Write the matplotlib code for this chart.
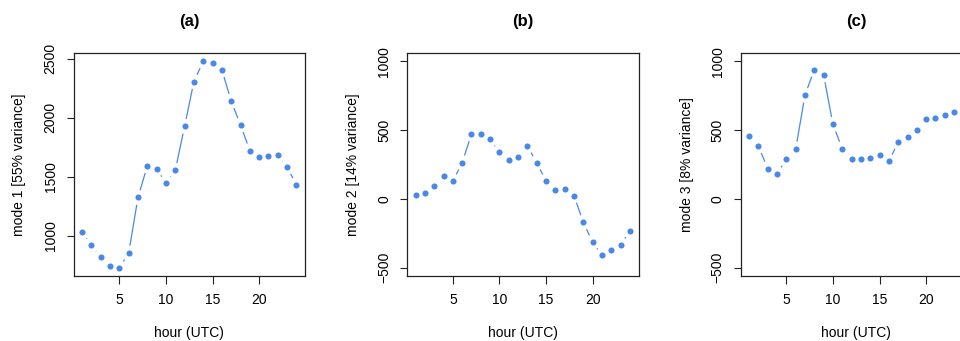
import numpy as np
import matplotlib
matplotlib.use("Agg")
import matplotlib.pyplot as plt

plt.rcParams['font.family'] = ['Liberation Sans', 'DejaVu Sans']

hours = list(range(1, 25))
mode1 = [1028, 921, 817, 744, 727, 851, 1324, 1592, 1564, 1448, 1553, 1928,
         2308, 2480, 2466, 2407, 2142, 1939, 1722, 1668, 1674, 1685, 1581, 1431]
mode2 = [29, 41, 97, 169, 130, 263, 471, 471, 432, 338, 283, 304,
         384, 263, 128, 65, 75, 24, -171, -314, -411, -370, -333, -232]
mode3 = [457, 384, 220, 184, 287, 362, 754, 940, 901, 541, 365, 292,
         287, 300, 319, 273, 413, 449, 500, 582, 589, 609, 628, 645]

titles = ['(a)', '(b)', '(c)']
ylabels = ['mode 1 [55% variance]', 'mode 2 [14% variance]', 'mode 3 [8% variance]']
xticks = [5, 10, 15, 20]
yticks = [[1000, 1500, 2000, 2500], [-500, 0, 500, 1000], [-500, 0, 500, 1000]]
fixed_ylim = [None, (-500, 1000), (-500, 1000)]
series = [mode1, mode2, mode3]

color = '#4A88E8'
W, H = 960, 341
fig = plt.figure(figsize=(W / 100, H / 100), dpi=100)

lefts = [73.5, 407.0, 740.5]
ax_w, ax_top, ax_bot = 231.5, 53, 276
ax_h = ax_bot - ax_top
gap_px = 7.5

for i in range(3):
    ax = fig.add_axes([lefts[i] / W, (H - ax_bot) / H, ax_w / W, ax_h / H])
    x = np.array(hours, dtype=float)
    y = np.array(series[i], dtype=float)
    xpad = 0.04 * (x.max() - x.min())
    ax.set_xlim(x.min() - xpad, x.max() + xpad)
    if fixed_ylim[i] is None:
        lo, hi = y.min(), y.max()
    else:
        lo, hi = fixed_ylim[i]
    ypad = 0.04 * (hi - lo)
    ax.set_ylim(lo - ypad, hi + ypad)

    ax.plot(x, y, 'o', color=color, markersize=4.4, markeredgewidth=0, clip_on=True)
    # lines with gaps around points (R type="b")
    pts = ax.transData.transform(np.column_stack([x, y]))
    inv = ax.transData.inverted()
    for k in range(len(pts) - 1):
        p0, p1 = pts[k], pts[k + 1]
        d = p1 - p0
        L = np.hypot(*d)
        if L > 2 * gap_px:
            u = d / L
            a = inv.transform(p0 + u * gap_px)
            b = inv.transform(p1 - u * gap_px)
            ax.plot([a[0], b[0]], [a[1], b[1]], '-', color=color, lw=0.9,
                    solid_capstyle='butt')

    ax.set_xticks(xticks)
    ax.set_yticks(yticks[i])
    ax.set_yticklabels([str(v).replace('-', '\u2212') for v in yticks[i]],
                       rotation=90, va='center')
    ax.tick_params(axis='both', length=5.4, width=0.8, labelsize=10, color='#222222')
    ax.tick_params(axis='y', pad=6)
    ax.tick_params(axis='x', pad=7)
    for s in ax.spines.values():
        s.set_linewidth(0.9)
        s.set_color('#222222')

    ax.text(0.5, 1 + 32 / ax_h, titles[i], transform=ax.transAxes, ha='center',
            va='center', fontsize=12, fontweight='bold')
    ax.text(-54 / ax_w, 0.5, ylabels[i], transform=ax.transAxes, ha='center',
            va='center', rotation=90, fontsize=10)
    ax.text(0.5, -57.5 / ax_h, 'hour (UTC)', transform=ax.transAxes, ha='center',
            va='center', fontsize=10)

fig.savefig('out.png', dpi=100)
